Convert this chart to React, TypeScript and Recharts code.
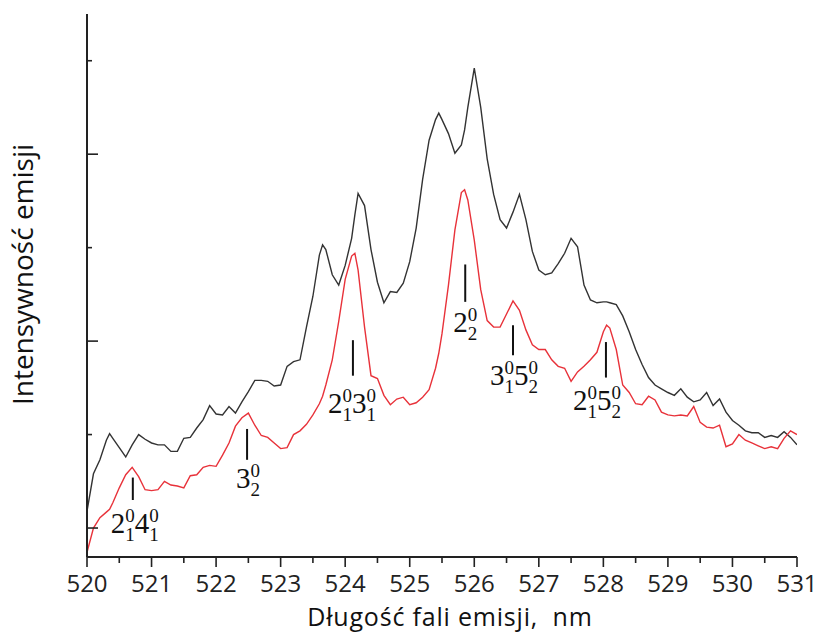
import React from 'react';
import { LineChart, Line, XAxis, YAxis, ReferenceLine, Label } from 'recharts';

// Wavelength grid (nm)
const wavelengths = [
  520.0, 520.1, 520.2, 520.3, 520.35, 520.4, 520.5, 520.6, 520.7, 520.8, 520.9,
  521.0, 521.1, 521.2, 521.3, 521.4, 521.5, 521.6, 521.7, 521.8, 521.9,
  522.0, 522.1, 522.2, 522.3, 522.4, 522.5, 522.6, 522.7, 522.8, 522.9,
  523.0, 523.1, 523.2, 523.3, 523.4, 523.5, 523.6, 523.65, 523.7, 523.8, 523.9,
  524.0, 524.1, 524.15, 524.2, 524.3, 524.4, 524.5, 524.6, 524.7, 524.8, 524.9,
  525.0, 525.1, 525.2, 525.3, 525.4, 525.45, 525.5, 525.6, 525.7, 525.8, 525.85, 525.9,
  526.0, 526.1, 526.2, 526.3, 526.4, 526.5, 526.6, 526.7, 526.8, 526.9,
  527.0, 527.1, 527.2, 527.3, 527.4, 527.5, 527.6, 527.7, 527.8, 527.9,
  528.0, 528.05, 528.1, 528.2, 528.3, 528.4, 528.5, 528.6, 528.7, 528.8, 528.9,
  529.0, 529.1, 529.2, 529.3, 529.4, 529.5, 529.6, 529.7, 529.8, 529.9,
  530.0, 530.1, 530.2, 530.3, 530.4, 530.5, 530.6, 530.7, 530.8, 530.9,
  531.0,
];

// Black spectrum (arbitrary intensity units)
const blackIntensity = [
  0.18, 0.58, 0.73, 0.94, 1.01, 0.96, 0.86, 0.76, 0.89, 1.0, 0.95,
  0.91, 0.89, 0.89, 0.82, 0.82, 0.96, 0.97, 1.07, 1.16, 1.31,
  1.22, 1.21, 1.3, 1.23, 1.35, 1.46, 1.58, 1.58, 1.57, 1.52,
  1.53, 1.73, 1.78, 1.8, 2.15, 2.48, 2.92, 3.03, 2.98, 2.71, 2.6,
  2.81, 3.1, 3.35, 3.58, 3.45, 2.98, 2.63, 2.41, 2.53, 2.52, 2.62,
  2.85, 3.21, 3.73, 4.15, 4.37, 4.44, 4.37, 4.22, 4.01, 4.1, 4.26, 4.5,
  4.92, 4.5, 3.95, 3.57, 3.3, 3.21, 3.38, 3.57, 3.3, 2.96,
  2.76, 2.71, 2.73, 2.83, 2.94, 3.1, 3.01, 2.6, 2.44, 2.41,
  2.42, 2.42, 2.41, 2.39, 2.27, 2.1, 1.91, 1.75, 1.61, 1.53, 1.49,
  1.45, 1.42, 1.49, 1.4, 1.35, 1.37, 1.45, 1.31, 1.38, 1.24,
  1.15, 1.1, 1.04, 1.02, 1.02, 0.97, 0.99, 0.97, 1.03, 0.97,
  0.89,
];

// Red spectrum
const redIntensity = [
  -0.26, 0.0, 0.11, 0.17, 0.2, 0.27, 0.43, 0.57, 0.65, 0.55, 0.41,
  0.4, 0.41, 0.5, 0.46, 0.45, 0.43, 0.56, 0.57, 0.65, 0.67,
  0.66, 0.78, 0.91, 1.09, 1.18, 1.23, 1.1, 0.99, 0.97, 0.91,
  0.85, 0.86, 1.0, 1.04, 1.11, 1.21, 1.33, 1.41, 1.53, 1.8, 2.21,
  2.66, 2.91, 2.94, 2.76, 2.15, 1.63, 1.6, 1.42, 1.32, 1.38, 1.4,
  1.32, 1.34, 1.4, 1.48, 1.71, 1.87, 2.08, 2.6, 3.19, 3.59, 3.62, 3.51,
  3.08, 2.55, 2.22, 2.15, 2.15, 2.29, 2.43, 2.33, 2.12, 1.96,
  1.91, 1.91, 1.8, 1.73, 1.71, 1.57, 1.67, 1.73, 1.8, 1.88,
  2.1, 2.17, 2.14, 1.91, 1.53, 1.45, 1.33, 1.32, 1.41, 1.37, 1.24,
  1.21, 1.2, 1.21, 1.2, 1.3, 1.13, 1.08, 1.07, 1.1, 0.87,
  0.9, 1.0, 0.94, 0.91, 0.88, 0.85, 0.87, 0.85, 0.96, 1.04,
  1.0,
];

const xTicks = [
  520, 520.5, 521, 521.5, 522, 522.5, 523, 523.5, 524, 524.5, 525, 525.5,
  526, 526.5, 527, 527.5, 528, 528.5, 529, 529.5, 530, 530.5, 531,
];
const yTicks = [0, 1, 2, 3, 4, 5];

const xLabel = 'Długość fali emisji,  nm';
const yLabel = 'Intensywność emisji';

// Band assignments: position (nm), marker bottom/top (intensity), label parts
const bandX = [520.71, 522.48, 524.12, 525.86, 526.6, 528.04];
const bandLow = [0.3, 0.73, 1.63, 2.42, 1.85, 1.61];
const bandHigh = [0.54, 1.06, 2.01, 2.82, 2.17, 1.99];
const bandLabels = [
  [{ b: '2', sup: '0', sub: '1' }, { b: '4', sup: '0', sub: '1' }],
  [{ b: '3', sup: '0', sub: '2' }],
  [{ b: '2', sup: '0', sub: '1' }, { b: '3', sup: '0', sub: '1' }],
  [{ b: '2', sup: '0', sub: '2' }],
  [{ b: '3', sup: '0', sub: '1' }, { b: '5', sup: '0', sub: '2' }],
  [{ b: '2', sup: '0', sub: '1' }, { b: '5', sup: '0', sub: '2' }],
];
// label layout offsets (px): horizontal shift of text start, baseline gap below marker
const bandLabelDx = [-22, -11, -25, -12, -23, -33];
const bandLabelGap = [33, 28, 37, 30, 30, 32];

const data = wavelengths.map((w, i) => ({ w, black: blackIntensity[i], red: redIntensity[i] }));

const AXIS = '#222';
const SANS = '"Open Sans", sans-serif';
const SERIF = '"Liberation Serif", "Times New Roman", serif';

const XTick = (props: any) => {
  const { x, y, payload } = props;
  const v = Number(payload.value);
  const major = Math.abs(v - Math.round(v)) < 1e-6;
  return (
    <g>
      <line x1={x} x2={x} y1={y} y2={y + (major ? 10 : 6)} stroke={AXIS} strokeWidth={1.6} />
      {major && (
        <text x={x} y={y + 34.5} textAnchor="middle" fontFamily={SANS} fontSize={24} fill="#222">
          {String(v)}
        </text>
      )}
    </g>
  );
};

const YTick = (props: any) => {
  const { x, y, payload } = props;
  const v = Number(payload.value);
  const major = Math.round(v) % 2 === 0;
  return <line x1={x} x2={x + (major ? 11 : 5)} y1={y} y2={y} stroke={AXIS} strokeWidth={1.6} />;
};

const makeBandLabel = (idx: number) => (props: any) => {
  const vb = props && props.viewBox ? props.viewBox : { x: 0, y: 0, width: 0, height: 0 };
  const lineX = vb.x + (vb.width || 0) / 2;
  const bottom = vb.y + (vb.height || 0);
  const sx = lineX + bandLabelDx[idx];
  const by = bottom + bandLabelGap[idx];
  const F = 29;
  const f = 19;
  const spans: any[] = [];
  bandLabels[idx].forEach((p, i) => {
    spans.push(<tspan key={'b' + i} y={by} fontSize={F}>{p.b}</tspan>);
    spans.push(<tspan key={'p' + i} y={by - 11} fontSize={f}>{p.sup}</tspan>);
    spans.push(<tspan key={'s' + i} y={by + 8} dx={-f * 0.5} fontSize={f}>{p.sub}</tspan>);
  });
  return (
    <text x={sx} y={by} fontFamily={SERIF} fill="#111" textAnchor="start">
      {spans}
    </text>
  );
};

const XAxisLabel = (props: any) => {
  const vb = props && props.viewBox ? props.viewBox : { x: 87, y: 557, width: 710, height: 76 };
  const cx = vb.x + vb.width / 2 + 8;
  return (
    <text
      x={cx}
      y={vb.y + 68.5}
      textAnchor="middle"
      fontFamily={SANS}
      fontSize={25}
      letterSpacing={0.8}
      fill="#111"
      style={{ whiteSpace: 'pre' }}
      xmlSpace="preserve"
    >
      {xLabel}
    </text>
  );
};

const YAxisLabel = (props: any) => {
  const vb = props && props.viewBox ? props.viewBox : { x: 0, y: 14, width: 87, height: 543 };
  const bx = vb.x + 33;
  const cy = vb.y + vb.height / 2 - 11;
  return (
    <text x={bx} y={cy} transform={`rotate(-90 ${bx} ${cy})`} textAnchor="middle" fontFamily={SANS} fontSize={28} fill="#111">
      {yLabel}
    </text>
  );
};

export default function App() {
  return (
    <div style={{ width: 820, height: 633, background: '#fff' }}>
      <style>{'body{margin:0;background:#fff}'}</style>
      <LineChart width={820} height={633} data={data} margin={{ top: 14, right: 23, bottom: 0, left: 0 }}>
        <XAxis
          dataKey="w"
          type="number"
          domain={[520, 531]}
          ticks={xTicks}
          interval={0}
          allowDataOverflow
          tickSize={0}
          tickMargin={0}
          tickLine={false}
          tick={XTick}
          height={76}
          axisLine={{ stroke: AXIS, strokeWidth: 2 }}
        >
          <Label content={XAxisLabel} />
        </XAxis>
        <YAxis
          yAxisId="left"
          type="number"
          domain={[-0.31, 5.5]}
          ticks={yTicks}
          interval={0}
          allowDataOverflow
          tickSize={0}
          tickMargin={0}
          tickLine={false}
          tick={YTick}
          width={87}
          axisLine={{ stroke: AXIS, strokeWidth: 2 }}
        >
          <Label content={YAxisLabel} />
        </YAxis>
        <YAxis
          yAxisId="right"
          orientation="right"
          type="number"
          domain={[-0.31, 5.5]}
          ticks={[]}
          tick={false}
          tickLine={false}
          width={0}
          axisLine={{ stroke: AXIS, strokeWidth: 2 }}
        />
        <Line
          yAxisId="left"
          type="linear"
          dataKey="black"
          stroke="#333"
          strokeWidth={1.4}
          dot={false}
          activeDot={false}
          isAnimationActive={false}
        />
        <Line
          yAxisId="left"
          type="linear"
          dataKey="red"
          stroke="#e8323a"
          strokeWidth={1.4}
          dot={false}
          activeDot={false}
          isAnimationActive={false}
        />
        {bandX.map((bx, i) => (
          <ReferenceLine
            key={i}
            yAxisId="left"
            segment={[{ x: bx, y: bandLow[i] }, { x: bx, y: bandHigh[i] }]}
            stroke="#111"
            strokeWidth={2}
            label={makeBandLabel(i)}
          />
        ))}
      </LineChart>
    </div>
  );
}
